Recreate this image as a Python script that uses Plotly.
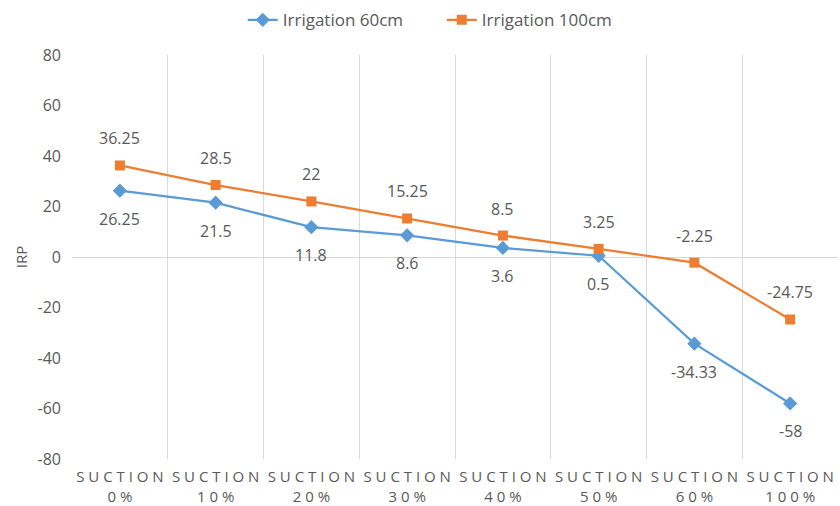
import plotly.graph_objects as go

categories = ["SUCTION 0%", "SUCTION 10%", "SUCTION 20%", "SUCTION 30%",
              "SUCTION 40%", "SUCTION 50%", "SUCTION 60%", "SUCTION 100%"]
tick_labels = ["S U C T I O N<br>0 %", "S U C T I O N<br>1 0 %", "S U C T I O N<br>2 0 %",
               "S U C T I O N<br>3 0 %", "S U C T I O N<br>4 0 %", "S U C T I O N<br>5 0 %",
               "S U C T I O N<br>6 0 %", "S U C T I O N<br>1 0 0 %"]
y_ticks = [-80, -60, -40, -20, 0, 20, 40, 60, 80]
y_tick_labels = ["-80", "-60", "-40", "-20", "0", "20", "40", "60", "80"]
irr_60 = [26.25, 21.5, 11.8, 8.6, 3.6, 0.5, -34.33, -58]
irr_100 = [36.25, 28.5, 22, 15.25, 8.5, 3.25, -2.25, -24.75]

FONT = "Open Sans, Liberation Sans, sans-serif"
GRAY = "#595959"

fig = go.Figure()
fig.add_trace(go.Scatter(
    x=categories, y=irr_60, name="Irrigation 60cm", mode="lines+markers",
    line=dict(color="#5B9BD5", width=2.25),
    marker=dict(symbol="diamond", size=11, color="#5B9BD5"),
))
fig.add_trace(go.Scatter(
    x=categories, y=irr_100, name="Irrigation 100cm", mode="lines+markers",
    line=dict(color="#ED7D31", width=2.25),
    marker=dict(symbol="square", size=10, color="#ED7D31"),
))

for c, v in zip(categories, irr_60):
    fig.add_annotation(x=c, y=v, text=f"{v:g}", showarrow=False, yshift=-28,
                       font=dict(size=16, color=GRAY, family=FONT))
for c, v in zip(categories, irr_100):
    fig.add_annotation(x=c, y=v, text=f"{v:g}", showarrow=False, yshift=27,
                       font=dict(size=16, color=GRAY, family=FONT))

fig.update_layout(
    width=840, height=506,
    margin=dict(l=72, r=2, t=55, b=47),
    paper_bgcolor="white", plot_bgcolor="white",
    font=dict(family=FONT, color=GRAY, size=16),
    legend=dict(orientation="h", xref="container", x=0.289, xanchor="left",
                yref="container", y=0.96, yanchor="middle",
                entrywidth=154, entrywidthmode="pixels",
                font=dict(size=17, color=GRAY)),
    showlegend=True,
)
fig.update_xaxes(
    type="category", tickmode="array", tickvals=categories, ticktext=tick_labels,
    tickson="boundaries", showgrid=True, gridcolor="#D9D9D9", gridwidth=1,
    ticks="", showline=False, range=[-0.5, 7.5], automargin=False,
    ticklabelstandoff=7,
    tickfont=dict(size=15, color=GRAY, family=FONT),
)
fig.update_yaxes(
    range=[-80, 80], tickmode="array", tickvals=y_ticks, ticktext=y_tick_labels,
    showgrid=False, zeroline=True, zerolinecolor="#D9D9D9", zerolinewidth=1,
    showline=False, automargin=False, ticklabelstandoff=10,
    tickfont=dict(size=16, color=GRAY, family=FONT),
    title=dict(text="IRP", font=dict(size=15, color=GRAY), standoff=6),
)

fig.write_html("out.html", config={"displayModeBar": False},
               post_script="document.body.style.margin='0';")
